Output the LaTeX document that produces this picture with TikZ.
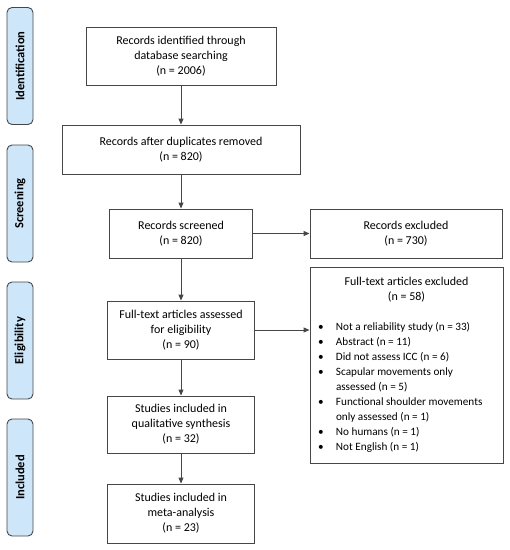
\documentclass[tikz,border=0pt]{standalone}
\usepackage{fontspec}
\setmainfont{Carlito}
\usepackage{tikz}
\usetikzlibrary{arrows.meta, positioning}
\definecolor{phasefill}{RGB}{205,230,250}
\definecolor{lineclr}{RGB}{70,70,70}
\newcommand{\bul}{\makebox[18pt][l]{\textbullet}}
\newcommand{\cont}{\hspace*{18pt}}

\begin{document}
\begin{tikzpicture}[
  x=1pt, y=-1pt,
  font=\fontsize{12}{15}\selectfont,
  box/.style={draw=lineclr, line width=0.9pt, align=center, inner sep=2pt},
  phase/.style={draw=lineclr, line width=0.9pt, fill=phasefill, rounded corners=5pt,
    minimum width=117pt, minimum height=26pt, rotate=90, font=\fontsize{12.5}{14}\selectfont\bfseries},
  arrow/.style={-{Triangle[length=6pt, width=5pt]}, line width=0.9pt, draw=lineclr}
]
\useasboundingbox (0,0) rectangle (510,550);

\node[phase] (idph) at (20,66) {Identification};
\node[phase] (scph) at (20,203.5) {Screening};
\node[phase] (elph) at (20,340.5) {Eligibility};
\node[phase] (inph) at (20,477.5) {Included};

\node[box, minimum width=190pt, minimum height=58pt] (ident) at (181,56)
  {Records identified through\\database searching\\(n = 2006)};
\node[box, minimum width=238pt, minimum height=49pt] (dup) at (181,149.5)
  {Records after duplicates removed\\(n = 820)};
\node[box, minimum width=143pt, minimum height=49pt] (screened) at (181,233.5)
  {Records screened\\(n = 820)};
\node[box, minimum width=192pt, minimum height=49pt] (recexcl) at (406,233.5)
  {Records excluded\\(n = 730)};
\node[box, minimum width=147pt, minimum height=58pt] (assessed) at (181,330)
  {Full-text articles assessed\\for eligibility\\(n = 90)};
\node[box, minimum width=193pt, minimum height=196pt] (ftexcl) at (406.5,365)
  {Full-text articles excluded\\(n = 58)\\[15pt]
   \hspace*{3pt}\parbox[t]{180pt}{\fontsize{11.2}{15}\selectfont\raggedright
   \bul Not a reliability study (n = 33)\\
   \bul Abstract (n = 11)\\
   \bul Did not assess ICC (n = 6)\\
   \bul Scapular movements only\\
   \cont assessed (n = 5)\\
   \bul Functional shoulder movements\\
   \cont only assessed (n = 1)\\
   \bul No humans (n = 1)\\
   \bul Not English (n = 1)}};
\node[box, minimum width=147pt, minimum height=57pt] (qual) at (181,424.5)
  {Studies included in\\qualitative synthesis\\(n = 32)};
\node[box, minimum width=147pt, minimum height=59pt] (meta) at (181,513.5)
  {Studies included in\\meta-analysis\\(n = 23)};

\draw[arrow] (ident) -- (dup);
\draw[arrow] (dup) -- (screened);
\draw[arrow] (screened) -- (recexcl);
\draw[arrow] (screened) -- (assessed);
\draw[arrow] (assessed.east) -- (assessed.east -| ftexcl.west);
\draw[arrow] (assessed) -- (qual);
\draw[arrow] (qual) -- (meta);
\end{tikzpicture}
\end{document}
